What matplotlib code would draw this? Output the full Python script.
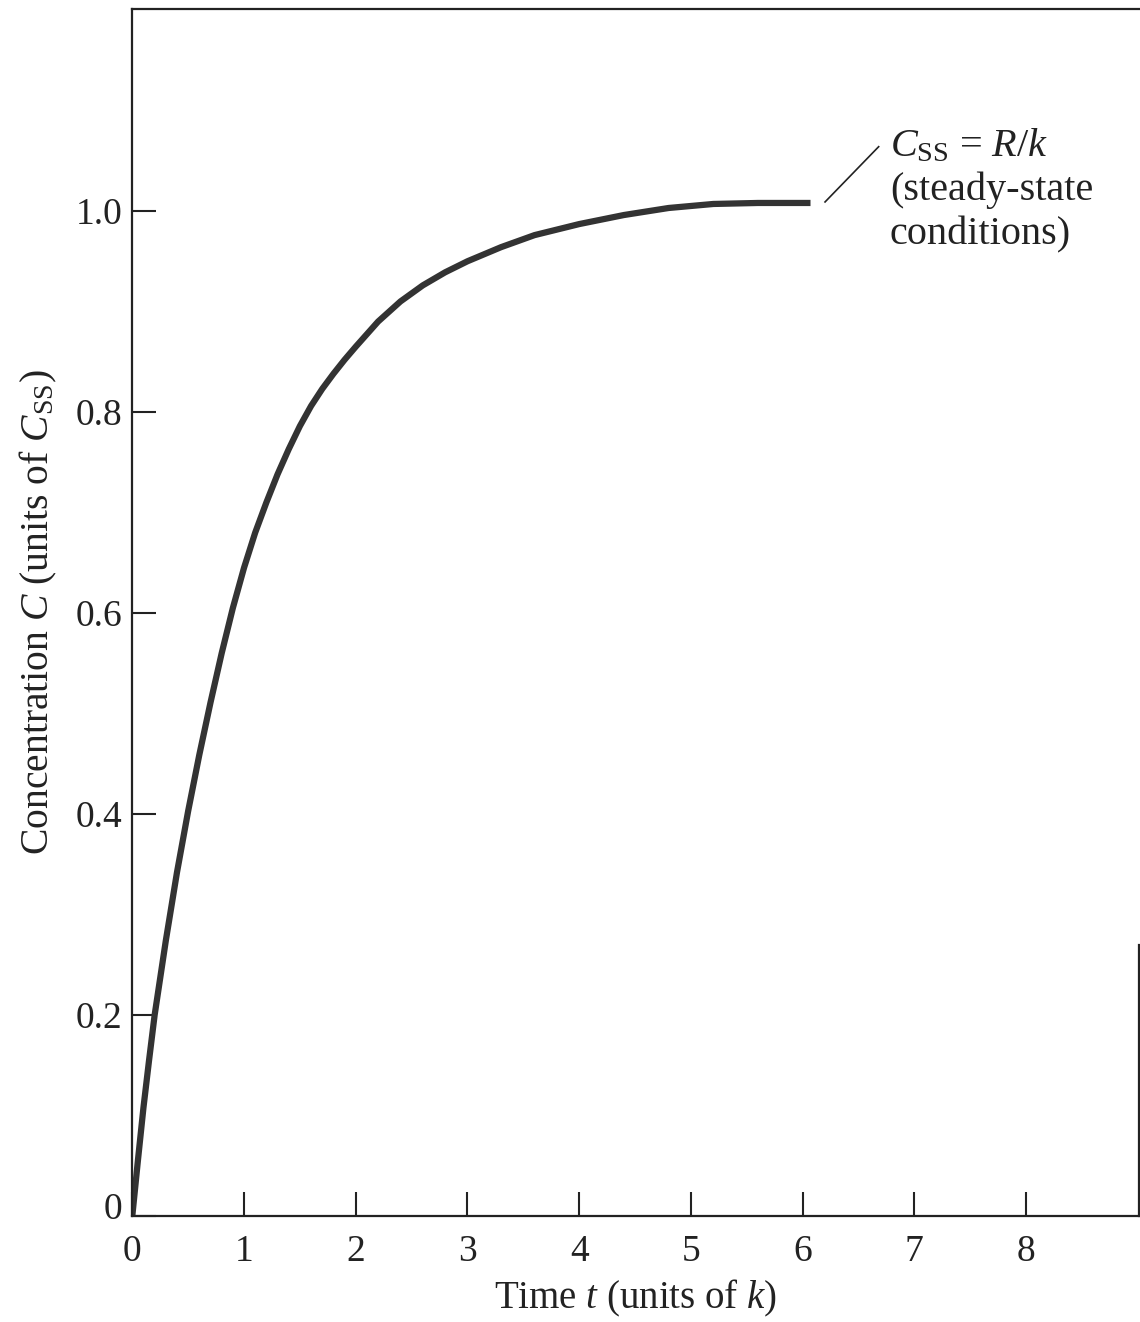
import matplotlib.pyplot as plt
import matplotlib.transforms as mtransforms

plt.rcParams['font.family'] = ['Liberation Serif', 'DejaVu Serif']
plt.rcParams['mathtext.fontset'] = 'custom'
plt.rcParams['mathtext.rm'] = 'Liberation Serif'
plt.rcParams['mathtext.it'] = 'Liberation Serif:italic'

# values
time_t = [0, 0.05, 0.10, 0.15, 0.20, 0.25, 0.30, 0.40, 0.50, 0.60, 0.70, 0.80, 0.90,
          1.00, 1.10, 1.20, 1.30, 1.40, 1.50, 1.60, 1.70, 1.80, 1.90, 2.00, 2.20,
          2.40, 2.60, 2.80, 3.00, 3.30, 3.60, 4.00, 4.40, 4.80, 5.20, 5.60, 6.07]
conc_c = [0, 0.055, 0.108, 0.155, 0.200, 0.237, 0.274, 0.342, 0.403, 0.459, 0.511, 0.560, 0.605,
          0.645, 0.680, 0.710, 0.738, 0.763, 0.786, 0.806, 0.823, 0.838, 0.852, 0.865, 0.890,
          0.910, 0.926, 0.939, 0.950, 0.964, 0.976, 0.987, 0.996, 1.003, 1.007, 1.008, 1.008]

x_ticks = [0, 1, 2, 3, 4, 5, 6, 7, 8]
y_ticks = [0, 0.2, 0.4, 0.6, 0.8, 1.0]
y_tick_labels = ['0', '0.2', '0.4', '0.6', '0.8', '1.0']

ink = '#222222'

fig = plt.figure(figsize=(11.4, 13.22), dpi=100)
ax = fig.add_axes([132.3 / 1140, 1 - 1216 / 1322, (1139 - 132.3) / 1140, (1216 - 9) / 1322])

ax.plot(time_t, conc_c, color='#333333', lw=4.5, solid_capstyle='butt',
        solid_joinstyle='round')

ax.set_xlim(0, 9.01)
ax.set_ylim(0, 1.201)
ax.set_xticks(x_ticks)
ax.set_xticklabels([str(v) for v in x_ticks])
ax.set_yticks(y_ticks)
ax.set_yticklabels(y_tick_labels)
ax.tick_params(direction='in', length=17, width=1.5, color=ink,
               labelsize=27, labelcolor=ink)
ax.tick_params(axis='x', pad=13)
ax.tick_params(axis='y', pad=7)

# the "0" on the y axis sits a little above the baseline
zero_lbl = ax.get_yticklabels()[0]
zero_lbl.set_transform(zero_lbl.get_transform() +
                       mtransforms.ScaledTranslation(0, 10 / 100, fig.dpi_scale_trans))

for side in ['left', 'bottom', 'top', 'right']:
    ax.spines[side].set_linewidth(1.6)
    ax.spines[side].set_color(ink)
ax.spines['right'].set_bounds(0, 0.27)

ax.set_xlabel('Time $t$ (units of $k$)', fontsize=28, color=ink, labelpad=7)
ax.set_ylabel('Concentration $C$ (units of $C_{\\rm SS}$)', fontsize=28.5,
              color=ink, labelpad=12)

# steady-state annotation
ax.plot([6.20, 6.68], [1.009, 1.064], color=ink, lw=1.2)
ax.text(6.78, 1.054, '$C_{\\rm SS}$ = $R/k$', fontsize=29, color=ink,
        va='baseline', ha='left')
ax.text(6.78, 1.011, '(steady-state', fontsize=29, color=ink,
        va='baseline', ha='left')
ax.text(6.78, 0.967, 'conditions)', fontsize=29, color=ink,
        va='baseline', ha='left')

fig.savefig('out.png', dpi=100)
